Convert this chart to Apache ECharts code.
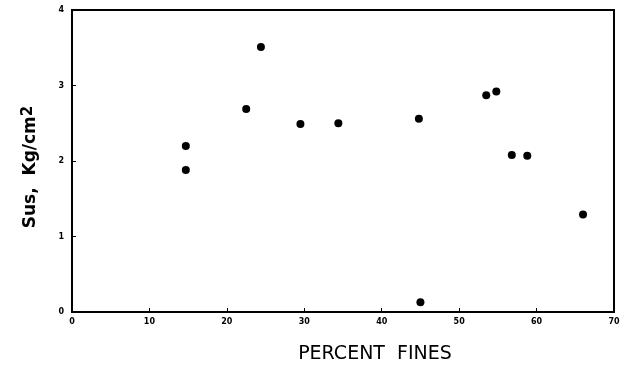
<!DOCTYPE html>
<html>
<head>
<meta charset="utf-8">
<script src="https://cdn.jsdelivr.net/npm/echarts@6/dist/echarts.min.js"></script>
<style>html,body{margin:0;padding:0;background:#fff}#c{width:627px;height:369px}</style>
</head>
<body>
<div id="c"></div>
<script>
var percentFines = [14.7, 14.7, 22.5, 24.4, 29.5, 34.4, 44.8, 45.0, 53.5, 54.8, 56.8, 58.8, 66.0];
var sus = [2.20, 1.88, 2.69, 3.51, 2.49, 2.50, 2.56, 0.13, 2.87, 2.92, 2.08, 2.07, 1.29];
var xTicks = [0, 10, 20, 30, 40, 50, 60, 70];
var yTicks = [0, 1, 2, 3, 4];

var chart = echarts.init(document.getElementById('c'), null, {renderer: 'canvas'});
var data = percentFines.map(function (x, i) { return [x, sus[i]]; });
chart.setOption({
  animation: false,
  backgroundColor: '#fff',
  grid: {left: 72, right: 13, top: 10, bottom: 57, show: true, borderColor: '#000', borderWidth: 2},
  xAxis: {
    type: 'value', min: xTicks[0], max: xTicks[xTicks.length - 1], interval: 10,
    name: 'PERCENT  FINES', nameLocation: 'middle', nameGap: 33,
    nameTextStyle: {fontFamily: 'DejaVu Sans', fontWeight: 500, fontSize: 19, color: '#000', padding: [0, 0, 0, 64]},
    axisLine: {show: true, lineStyle: {color: '#000', width: 2}},
    axisTick: {show: true, inside: true, length: 4, lineStyle: {color: '#000', width: 1}},
    axisLabel: {fontFamily: 'DejaVu Sans', fontWeight: 'bold', fontSize: 8, color: '#000', margin: 6},
    splitLine: {show: false}
  },
  yAxis: {
    type: 'value', min: yTicks[0], max: yTicks[yTicks.length - 1], interval: 1,
    name: '{n|Sus,  Kg/cm}{s|2}', nameLocation: 'middle', nameGap: 31,
    nameTextStyle: {
      padding: [0, 12, 0, 0],
      rich: {
        n: {fontFamily: 'DejaVu Sans', fontWeight: 'bold', fontSize: 17, color: '#000'},
        s: {fontFamily: 'DejaVu Sans', fontWeight: 'bold', fontSize: 15, color: '#000', verticalAlign: 'top', padding: [0, 0, 5, 0]}
      }
    },
    axisLine: {show: true, lineStyle: {color: '#000', width: 2}},
    axisTick: {show: true, inside: true, length: 4, lineStyle: {color: '#000', width: 1}},
    axisLabel: {fontFamily: 'DejaVu Sans', fontWeight: 'bold', fontSize: 8, color: '#000', margin: 8},
    splitLine: {show: false}
  },
  series: [{
    type: 'scatter', data: data, symbol: 'circle', symbolSize: 8,
    itemStyle: {color: '#000', opacity: 1}
  }]
});
</script>
</body>
</html>
